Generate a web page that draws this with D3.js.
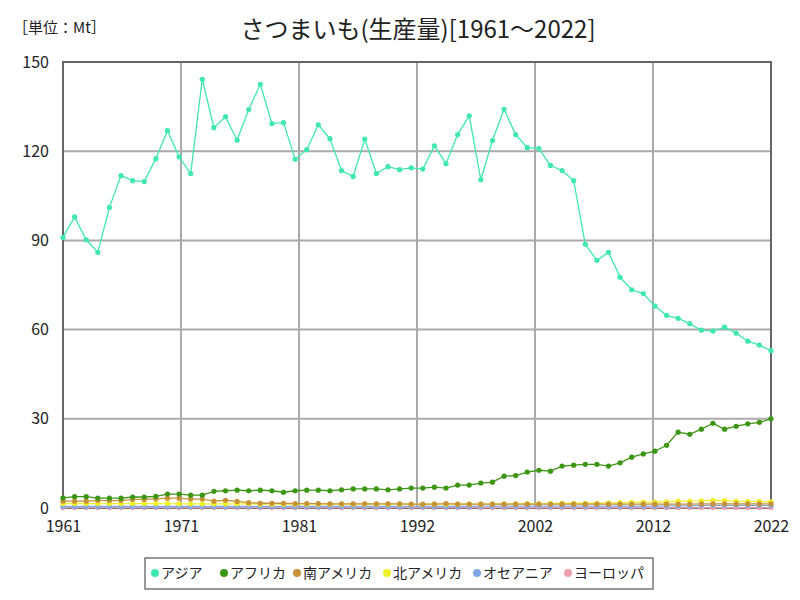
<!DOCTYPE html>
<html><head><meta charset="utf-8">
<script src="https://cdn.jsdelivr.net/npm/d3@7"></script>
<style>body{margin:0;background:#fff}svg{display:block}</style>
</head><body>
<svg id="c" width="800" height="600"></svg>
<script>
const years = d3.range(1961, 2023);
const seriesNames = ["アジア","アフリカ","南アメリカ","北アメリカ","オセアニア","ヨーロッパ"];
const colors = ["#40e8b0","#3c9614","#c8923a","#f0f028","#80a8e8","#f0a0b0"];
const asia = [91.0,97.9,90.2,86.0,101.1,111.8,110.1,109.8,117.5,126.9,118.1,112.5,144.2,127.9,131.6,123.7,134.0,142.5,129.3,129.6,
  117.3,120.5,128.9,124.2,113.5,111.5,124.1,112.5,114.8,113.8,114.4,114.0,121.8,115.8,125.6,131.9,110.4,123.6,134.1,125.6,
  121.2,120.9,115.2,113.5,110.1,88.7,83.3,86.0,77.6,73.4,72.1,67.9,64.8,63.8,62.0,59.8,59.5,60.8,58.8,56.1,54.8,52.9];
const africa = [3.4,3.8,3.8,3.3,3.3,3.3,3.7,3.7,3.9,4.7,4.7,4.3,4.3,5.6,5.8,6.0,5.8,6.0,5.8,5.3,
  5.8,6.0,6.0,5.8,6.1,6.4,6.4,6.4,6.1,6.4,6.7,6.7,7.0,6.7,7.7,7.7,8.4,8.7,10.7,10.9,
  12.1,12.7,12.4,14.1,14.4,14.7,14.7,14.1,15.2,17.1,18.2,19.1,21.1,25.5,24.8,26.5,28.5,26.5,27.5,28.3,28.8,30.0];
const southAmerica = [2.3,2.3,2.3,2.5,2.5,2.5,2.9,2.9,3.1,3.3,3.3,3.0,3.0,2.3,2.6,2.2,1.8,1.6,1.6,1.6,
  1.5,1.5,1.5,1.4,1.4,1.4,1.4,1.4,1.4,1.4,1.3,1.3,1.3,1.5,1.3,1.3,1.3,1.3,1.3,1.3,
  1.3,1.3,1.3,1.3,1.3,1.3,1.3,1.3,1.3,1.3,1.3,1.3,1.3,1.3,1.3,1.4,1.4,1.4,1.4,1.4,1.4,1.4];
const northAmerica = [1.5,1.5,1.5,1.5,1.5,1.5,1.5,1.5,1.5,1.5,1.4,1.4,1.4,1.4,1.4,1.4,1.4,1.3,1.3,1.3,
  1.3,1.3,1.3,1.3,1.3,1.3,1.3,1.3,1.3,1.3,1.2,1.2,1.3,1.3,1.3,1.3,1.3,1.4,1.4,1.4,
  1.5,1.5,1.5,1.6,1.6,1.6,1.6,1.7,1.8,1.9,2.0,2.0,2.1,2.3,2.3,2.4,2.6,2.5,2.3,2.2,2.2,2.1];
const oceania = [0.5,0.5,0.5,0.5,0.5,0.5,0.5,0.5,0.5,0.5,0.5,0.5,0.5,0.5,0.5,0.5,0.5,0.5,0.5,0.5,
  0.5,0.5,0.5,0.5,0.5,0.5,0.5,0.5,0.5,0.5,0.5,0.5,0.5,0.5,0.5,0.5,0.6,0.6,0.6,0.6,
  0.6,0.6,0.6,0.6,0.6,0.6,0.6,0.6,0.6,0.6,0.6,0.6,0.7,0.7,0.7,0.9,0.9,0.9,0.9,0.9,0.9,0.9];
const europe = [0.1,0.1,0.1,0.1,0.1,0.1,0.1,0.1,0.1,0.1,0.1,0.1,0.1,0.1,0.1,0.1,0.1,0.1,0.1,0.1,
  0.1,0.1,0.1,0.1,0.1,0.1,0.1,0.1,0.1,0.1,0.1,0.1,0.1,0.1,0.1,0.1,0.1,0.1,0.1,0.1,
  0.1,0.1,0.1,0.1,0.1,0.1,0.1,0.1,0.1,0.1,0.1,0.1,0.1,0.1,0.1,0.1,0.1,0.1,0.1,0.1,0.1,0.1];
const yTicks = [0,30,60,90,120,150];
const xTickCount = 6;
const title = "さつまいも(生産量)[1961〜2022]";
const unitLabel = "［単位：Mt］";

const seriesData = [asia, africa, southAmerica, northAmerica, oceania, europe];
const font = "'Noto Sans CJK JP', 'DejaVu Sans', sans-serif";
const svg = d3.select("#c");
const L = 63, R = 771, T = 62, B = 508;
const x = d3.scaleLinear().domain([1961, 2022]).range([L, R]);
const y = d3.scaleLinear().domain([0, 150]).range([B, T]);
const xTicks = d3.range(xTickCount + 1).map(k => 1961 + k * 61 / xTickCount);

// grid
const g = svg.append("g");
g.selectAll(".gy").data(yTicks.slice(1, -1)).enter().append("line")
  .attr("x1", L).attr("x2", R).attr("y1", d => y(d)).attr("y2", d => y(d))
  .attr("stroke", "#aaaaaa").attr("stroke-width", 2);
g.selectAll(".gx").data(xTicks.slice(1, -1)).enter().append("line")
  .attr("y1", T).attr("y2", B).attr("x1", d => x(d)).attr("x2", d => x(d))
  .attr("stroke", "#aaaaaa").attr("stroke-width", 2);
svg.append("rect").attr("x", L).attr("y", T).attr("width", R - L).attr("height", B - T)
  .attr("fill", "none").attr("stroke", "#666666").attr("stroke-width", 2);

// axes
const yAxis = d3.axisLeft(y).tickValues(yTicks).tickSize(0).tickPadding(14);
const ya = svg.append("g").attr("transform", `translate(${L},0)`).call(yAxis);
ya.select(".domain").remove();
ya.selectAll("text").attr("font-family", font).attr("font-size", 16).attr("fill", "#222");
const xAxis = d3.axisBottom(x).tickValues(xTicks).tickSize(0).tickPadding(13).tickFormat(d => Math.round(d));
const xa = svg.append("g").attr("transform", `translate(0,${B})`).call(xAxis);
xa.select(".domain").remove();
xa.selectAll("text").attr("font-family", font).attr("font-size", 16).attr("fill", "#222");

// series (reverse so Asia on top)
const line = d3.line().x((d, i) => x(years[i])).y(d => y(d));
for (let s = seriesData.length - 1; s >= 0; s--) {
  const data = seriesData[s];
  const sg = svg.append("g");
  sg.append("path").datum(data).attr("d", line).attr("fill", "none")
    .attr("stroke", colors[s]).attr("stroke-width", 1.3);
  sg.selectAll("circle").data(data).enter().append("circle")
    .attr("cx", (d, i) => x(years[i])).attr("cy", d => y(d)).attr("r", 2.6)
    .attr("fill", colors[s]);
}

// title
svg.append("text").attr("x", 418).attr("y", 38).attr("text-anchor", "middle")
  .attr("font-family", font).attr("font-size", 24).attr("fill", "#222").text(title);
svg.append("text").attr("x", 13).attr("y", 33)
  .attr("font-family", font).attr("font-size", 15).attr("fill", "#222").text(unitLabel);

// legend
svg.append("rect").attr("x", 145).attr("y", 558).attr("width", 508).attr("height", 31)
  .attr("fill", "#fff").attr("stroke", "#777").attr("stroke-width", 1.5);
const legX = [155, 224, 297, 387, 477, 568];
seriesNames.forEach((n, i) => {
  svg.append("circle").attr("cx", legX[i]).attr("cy", 573).attr("r", 4).attr("fill", colors[i]);
  svg.append("text").attr("x", legX[i] + 6).attr("y", 578).attr("font-family", font)
    .attr("font-size", 14).attr("fill", "#222").text(n);
});
</script>
</body></html>
